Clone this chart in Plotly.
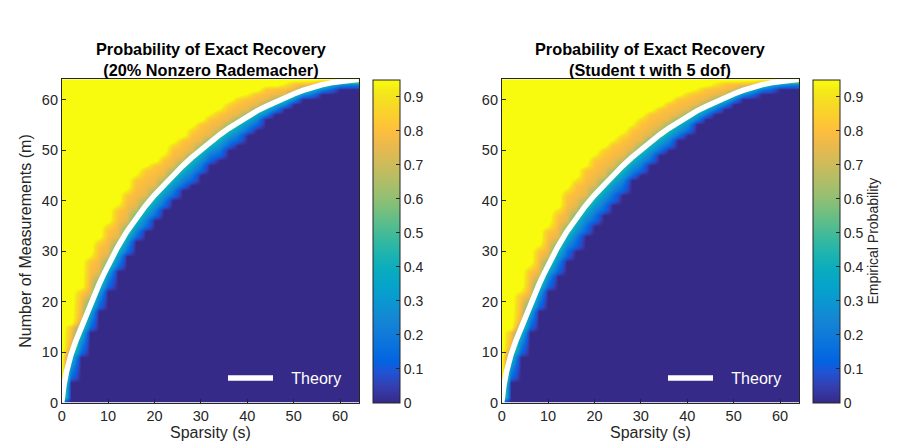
import plotly.graph_objects as go

# grid of the experiment: sparsity columns and measurement rows
s_cols = list(range(0, 65, 2))
m_rows = list(range(0, 65))

# theoretical phase transition curve
theory_s = [0, 0.25, 0.5, 1, 1.5, 2, 3, 4, 5, 6, 7, 8, 9, 10,
            12, 14, 16, 18, 20, 22, 24, 26, 28, 30, 32, 34, 36, 38,
            40, 42, 44, 46, 48, 50, 52, 54, 56, 58, 60, 62, 64]
theory_m = [0, 2.2, 3.6, 6.0, 7.9, 9.5, 12.1, 14.4, 16.9, 19.1, 21.3, 23.3, 25.3, 27.2,
            30.7, 33.8, 36.5, 38.9, 41.1, 43.1, 45.0, 46.8, 48.5, 50.1, 51.6, 53.0, 54.3, 55.5,
            56.6, 57.7, 58.6, 59.5, 60.3, 61.1, 61.8, 62.4, 62.9, 63.3, 63.6, 63.85, 64.0]

# empirical edges per sparsity column: m where success prob ~0 (lo) and ~1 (hi)
rad_lo = [0, 4, 9, 14, 18.5, 22.5, 26, 29, 32, 34, 36, 38.2, 40.2, 42.2, 43.5, 45.5, 47.8,
          48.7, 50.7, 51.7, 53.4, 54.7, 56, 57, 58, 59, 60, 60.6, 61.3, 61.9, 62.3, 62.4, 62.4]
rad_hi = [4, 16, 23, 29.5, 33, 36, 39.5, 42.5, 45.5, 47.2, 48, 49.4, 51.7, 53, 54.7, 56, 57.3,
          58.3, 59.6, 60.6, 61.3, 62, 62.6, 63, 63.2, 63.6, 63.9, 64, 64, 64, 64, 64, 64]
stu_lo = [0, 4, 9.5, 14.4, 18.3, 22.3, 25.6, 28.9, 30.9, 33.8, 35.6, 37.5, 39.9, 41.8, 44.1, 45.5, 47.1,
          49.1, 50.4, 52, 53.4, 55, 56.3, 57.3, 58.3, 59.3, 60.3, 60.9, 61.6, 61.9, 62.1, 62.3, 62.3]
stu_hi = [4, 15, 22.5, 27.5, 31.5, 35.4, 38.7, 42.7, 44.7, 47.3, 49.5, 51, 52.4, 53.7, 55.3, 56.7, 58,
          59, 60, 61, 61.6, 62.3, 63, 63.3, 63.6, 64, 64, 64, 64, 64, 64, 64, 64]

cbar_ticks = [0, 0.1, 0.2, 0.3, 0.4, 0.5, 0.6, 0.7, 0.8, 0.9]
axis_ticks = [0, 10, 20, 30, 40, 50, 60]

# parula
parula = [
    (1, (0.2081, 0.1663, 0.5292)), (4, (0.2081, 0.2386, 0.6771)),
    (7, (0.1253, 0.3242, 0.8303)), (9, (0.0117, 0.3875, 0.8820)),
    (12, (0.0329, 0.4430, 0.8720)), (15, (0.0723, 0.4887, 0.8467)),
    (18, (0.0749, 0.5375, 0.8263)), (21, (0.0343, 0.5966, 0.8199)),
    (24, (0.0231, 0.6418, 0.7913)), (27, (0.0384, 0.6743, 0.7436)),
    (30, (0.1133, 0.7015, 0.6859)), (33, (0.2178, 0.7250, 0.6193)),
    (36, (0.3482, 0.7424, 0.5473)), (39, (0.4871, 0.7491, 0.4840)),
    (42, (0.6099, 0.7473, 0.4337)), (45, (0.7184, 0.7411, 0.3905)),
    (48, (0.8185, 0.7327, 0.3498)), (51, (0.9139, 0.7258, 0.3063)),
    (54, (0.9938, 0.7455, 0.2403)), (57, (0.9880, 0.8066, 0.1794)),
    (60, (0.9626, 0.8705, 0.1309)), (62, (0.9598, 0.9218, 0.0948)),
    (64, (0.9763, 0.9831, 0.0538)),
]
colorscale = [[(i - 1) / 63, "rgb(%d,%d,%d)" % tuple(round(c * 255) for c in rgb)]
              for i, rgb in parula]

curve_at = dict(zip(theory_s, theory_m))


def build_grid(lo_edge, hi_edge):
    z = []
    for m in m_rows:
        row = []
        for s, lo, hi in zip(s_cols, lo_edge, hi_edge):
            mid = curve_at[s]
            if m <= lo:
                p = 0.0
            elif m >= hi:
                p = 1.0
            elif m < mid:
                t = (m - lo) / (mid - lo)
                p = 0.13 + 0.37 * t ** 1.5
            else:
                u = (m - mid) / (hi - mid)
                if u < 0.25:
                    p = 0.5 + u
                elif u < 0.85:
                    p = 0.75 + (u - 0.25) * 0.12
                else:
                    p = 0.82 + (u - 0.85) * 1.2
            row.append(p)
        z.append(row)
    return z


FONT = "Liberation Sans, Arial, Helvetica, sans-serif"
INK = "#262626"
# the page body keeps its default 8px margin, so the figure is drawn 8px in
W, H = 892, 439
OFF = 8


def fx(px):
    return (px - OFF) / W


def fy(py):
    return 1 - (py - OFF) / H


y_dom = [fy(402.7), fy(79.3)]

panels = [
    dict(lo=rad_lo, hi=rad_hi, xdom=[fx(61.7), fx(359.3)], cb_x=fx(372.7),
         title="<b>Probability of Exact Recovery</b><br><b>(20% Nonzero Rademacher)</b>",
         cb_title="", legend="legend", leg_x=fx(223)),
    dict(lo=stu_lo, hi=stu_hi, xdom=[fx(501.7), fx(799.3)], cb_x=fx(812.7),
         title="<b>Probability of Exact Recovery</b><br><b>(Student t with 5 dof)</b>",
         cb_title="Empirical Probability", legend="legend2", leg_x=fx(663)),
]

fig = go.Figure()
annotations = []
layout = {}
for k, p in enumerate(panels):
    sfx = "" if k == 0 else str(k + 1)
    fig.add_trace(go.Heatmap(
        x=s_cols, y=m_rows, z=build_grid(p["lo"], p["hi"]),
        xaxis="x" + sfx, yaxis="y" + sfx,
        zmin=0, zmax=0.95, zsmooth="best", colorscale=colorscale,
        colorbar=dict(
            x=p["cb_x"], xanchor="left", xpad=0, ypad=0,
            y=y_dom[0], yanchor="bottom", len=y_dom[1] - y_dom[0],
            thickness=27, outlinewidth=1, outlinecolor=INK,
            tickvals=cbar_ticks, ticks="inside", ticklen=4, tickcolor=INK,
            tickfont=dict(size=14, color=INK, family=FONT),
            title=dict(text=p["cb_title"], side="right",
                       font=dict(size=14, color=INK, family=FONT)),
        ),
        showlegend=False,
    ))
    fig.add_trace(go.Scatter(
        x=theory_s, y=theory_m, mode="lines", name="\u00a0\u00a0\u00a0Theory",
        line=dict(color="white", width=5.5),
        xaxis="x" + sfx, yaxis="y" + sfx, legend=p["legend"], showlegend=True,
    ))
    layout["xaxis" + sfx] = dict(
        domain=p["xdom"], range=[0, 64.15], anchor="y" + sfx, automargin=False,
        tickvals=axis_ticks, ticks="inside", ticklen=4, tickcolor=INK,
        showgrid=False, zeroline=False, showline=True, mirror=True,
        linecolor=INK, linewidth=0.6,
        tickfont=dict(size=14.5, color=INK, family=FONT),
        title=dict(text="Sparsity (s)", standoff=2,
                   font=dict(size=16, color=INK, family=FONT)),
    )
    layout["yaxis" + sfx] = dict(
        domain=y_dom, range=[0, 64], anchor="x" + sfx, automargin=False,
        tickvals=axis_ticks, ticks="inside", ticklen=4, tickcolor=INK,
        showgrid=False, zeroline=False, showline=True, mirror=True,
        linecolor=INK, linewidth=0.6,
        tickfont=dict(size=14.5, color=INK, family=FONT),
        title=dict(text="Number of Measurements (m)" if k == 0 else "", standoff=6,
                   font=dict(size=16, color=INK, family=FONT)),
    )
    layout[p["legend"]] = dict(
        x=p["leg_x"], y=fy(378), xanchor="left", yanchor="middle",
        bgcolor="rgba(0,0,0,0)", borderwidth=0, itemwidth=45,
        font=dict(size=16, color="white", family=FONT),
    )
    annotations.append(dict(
        text=p["title"], x=sum(p["xdom"]) / 2, y=fy(59),
        xref="paper", yref="paper", xanchor="center", yanchor="middle",
        showarrow=False, font=dict(size=16.3, color="black", family=FONT),
    ))

fig.update_layout(
    width=W, height=H, margin=dict(l=0, r=0, t=0, b=0, autoexpand=False),
    paper_bgcolor="white", plot_bgcolor="white",
    font=dict(family=FONT), annotations=annotations, **layout,
)

fig.write_html("out.html")
